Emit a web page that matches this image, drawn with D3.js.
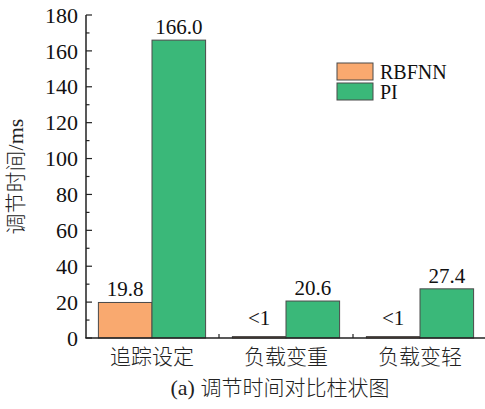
<!DOCTYPE html>
<html>
<head>
<meta charset="utf-8">
<script src="https://cdn.jsdelivr.net/npm/d3@7"></script>
<style>
  body { margin: 0; background: #fff; }
  svg { display: block; }
</style>
</head>
<body>
<svg id="chart" width="485" height="409"></svg>
<script>
// Settling time for each scenario and controller
const categories = ["追踪设定", "负载变重", "负载变轻"];
const seriesNames = ["RBFNN", "PI"];
const rbfnnValues = [19.8, 0.8, 0.8];
const piValues = [166.0, 20.6, 27.4];
const rbfnnLabels = ["19.8", "<1", "<1"];
const piLabels = ["166.0", "20.6", "27.4"];
const yTicks = [0, 20, 40, 60, 80, 100, 120, 140, 160, 180];
const colors = ["#F9A96F", "#3AB879"];

const svg = d3.select("#chart");
const margin = { left: 86, right: 0, top: 15, bottom: 71 };
const W = 485, H = 409;
const plotBottom = H - margin.bottom;

const serif = "'Liberation Serif', 'Times New Roman', serif";
const cjk = "'Noto Sans CJK SC', sans-serif";

const x = d3.scaleBand().domain(categories).range([margin.left - 1, W + 2]).paddingInner(0).paddingOuter(0);
const y = d3.scaleLinear().domain([0, 180]).range([plotBottom, margin.top]);

const innerPad = 0.1;
const groupW = x.bandwidth() * (1 - 2 * innerPad);
const xs = d3.scaleBand().domain(seriesNames).range([0, groupW]);

const rows = categories.map((c, i) => ({
  cat: c,
  vals: [
    { s: seriesNames[0], v: rbfnnValues[i], label: rbfnnLabels[i], color: colors[0] },
    { s: seriesNames[1], v: piValues[i], label: piLabels[i], color: colors[1] }
  ]
}));

const groups = svg.append("g").selectAll("g").data(rows).join("g")
  .attr("transform", d => `translate(${x(d.cat) + x.bandwidth() * innerPad},0)`);

groups.selectAll("rect").data(d => d.vals).join("rect")
  .attr("x", d => xs(d.s))
  .attr("y", d => y(d.v))
  .attr("width", xs.bandwidth())
  .attr("height", d => y(0) - y(d.v))
  .attr("fill", d => d.color)
  .attr("stroke", "#4a4a4a")
  .attr("stroke-width", 1);

groups.selectAll("text").data(d => d.vals).join("text")
  .attr("x", d => xs(d.s) + xs.bandwidth() / 2)
  .attr("y", d => y(d.v) - (d.label.startsWith("<") ? 12 : 6))
  .attr("text-anchor", "middle")
  .attr("font-family", serif)
  .attr("font-size", 21)
  .attr("fill", "#111")
  .text(d => d.label);

// Left axis with inward major and minor ticks
const yAxis = svg.append("g").attr("transform", `translate(${margin.left},0)`);
yAxis.append("line")
  .attr("x1", 0).attr("x2", 0)
  .attr("y1", y(180)).attr("y2", y(0))
  .attr("stroke", "#222").attr("stroke-width", 1.5);
const minor = d3.range(10, 180, 20);
yAxis.selectAll("line.minor").data(minor).join("line")
  .attr("class", "minor")
  .attr("x1", 0).attr("x2", 3.5)
  .attr("y1", d => y(d)).attr("y2", d => y(d))
  .attr("stroke", "#222").attr("stroke-width", 1.2);
yAxis.selectAll("line.major").data(yTicks).join("line")
  .attr("class", "major")
  .attr("x1", 0).attr("x2", 6)
  .attr("y1", d => y(d)).attr("y2", d => y(d))
  .attr("stroke", "#222").attr("stroke-width", 1.2);
yAxis.selectAll("text").data(yTicks).join("text")
  .attr("x", -8)
  .attr("y", d => y(d))
  .attr("dy", "0.35em")
  .attr("text-anchor", "end")
  .attr("font-family", serif)
  .attr("font-size", 22)
  .attr("fill", "#111")
  .text(d => d);

// Bottom axis with small ticks between groups
const xAxis = svg.append("g");
xAxis.append("line")
  .attr("x1", margin.left - 0.75).attr("x2", W)
  .attr("y1", plotBottom).attr("y2", plotBottom)
  .attr("stroke", "#222").attr("stroke-width", 1.5);
xAxis.selectAll("line.sep").data(categories.slice(1)).join("line")
  .attr("class", "sep")
  .attr("x1", d => x(d)).attr("x2", d => x(d))
  .attr("y1", plotBottom).attr("y2", plotBottom - 4)
  .attr("stroke", "#222").attr("stroke-width", 1.2);
xAxis.selectAll("text").data(categories).join("text")
  .attr("x", d => x(d) + x.bandwidth() / 2)
  .attr("y", plotBottom + 26)
  .attr("text-anchor", "middle")
  .attr("font-family", cjk)
  .attr("font-weight", 300)
  .attr("font-size", 21)
  .attr("fill", "#222")
  .text(d => d);

// Axis title
svg.append("text")
  .attr("transform", `translate(23,${(y(0) + y(180)) / 2}) rotate(-90)`)
  .attr("text-anchor", "middle")
  .attr("font-size", 21)
  .attr("fill", "#222")
  .call(t => {
    t.append("tspan").attr("font-family", cjk).attr("font-weight", 300).text("调节时间");
    t.append("tspan").attr("font-family", serif).attr("font-size", 22).text("/ms");
  });

// Caption
svg.append("text")
  .attr("x", 280)
  .attr("y", plotBottom + 57)
  .attr("text-anchor", "middle")
  .attr("font-size", 21)
  .attr("fill", "#222")
  .call(t => {
    t.append("tspan").attr("font-family", serif).attr("font-size", 22).text("(a) ");
    t.append("tspan").attr("font-family", cjk).attr("font-weight", 300).text("调节时间对比柱状图");
  });

// Legend
const legend = svg.append("g").attr("transform", "translate(337,63)");
const li = legend.selectAll("g").data(seriesNames).join("g")
  .attr("transform", (d, i) => `translate(0,${i * 20})`);
li.append("rect")
  .attr("width", 36).attr("height", 17)
  .attr("fill", (d, i) => colors[i])
  .attr("stroke", "#4a4a4a").attr("stroke-width", 1);
li.append("text")
  .attr("x", 43).attr("y", 9)
  .attr("dy", "0.35em")
  .attr("font-family", serif)
  .attr("font-size", 20)
  .attr("fill", "#111")
  .text(d => d);
</script>
</body>
</html>
